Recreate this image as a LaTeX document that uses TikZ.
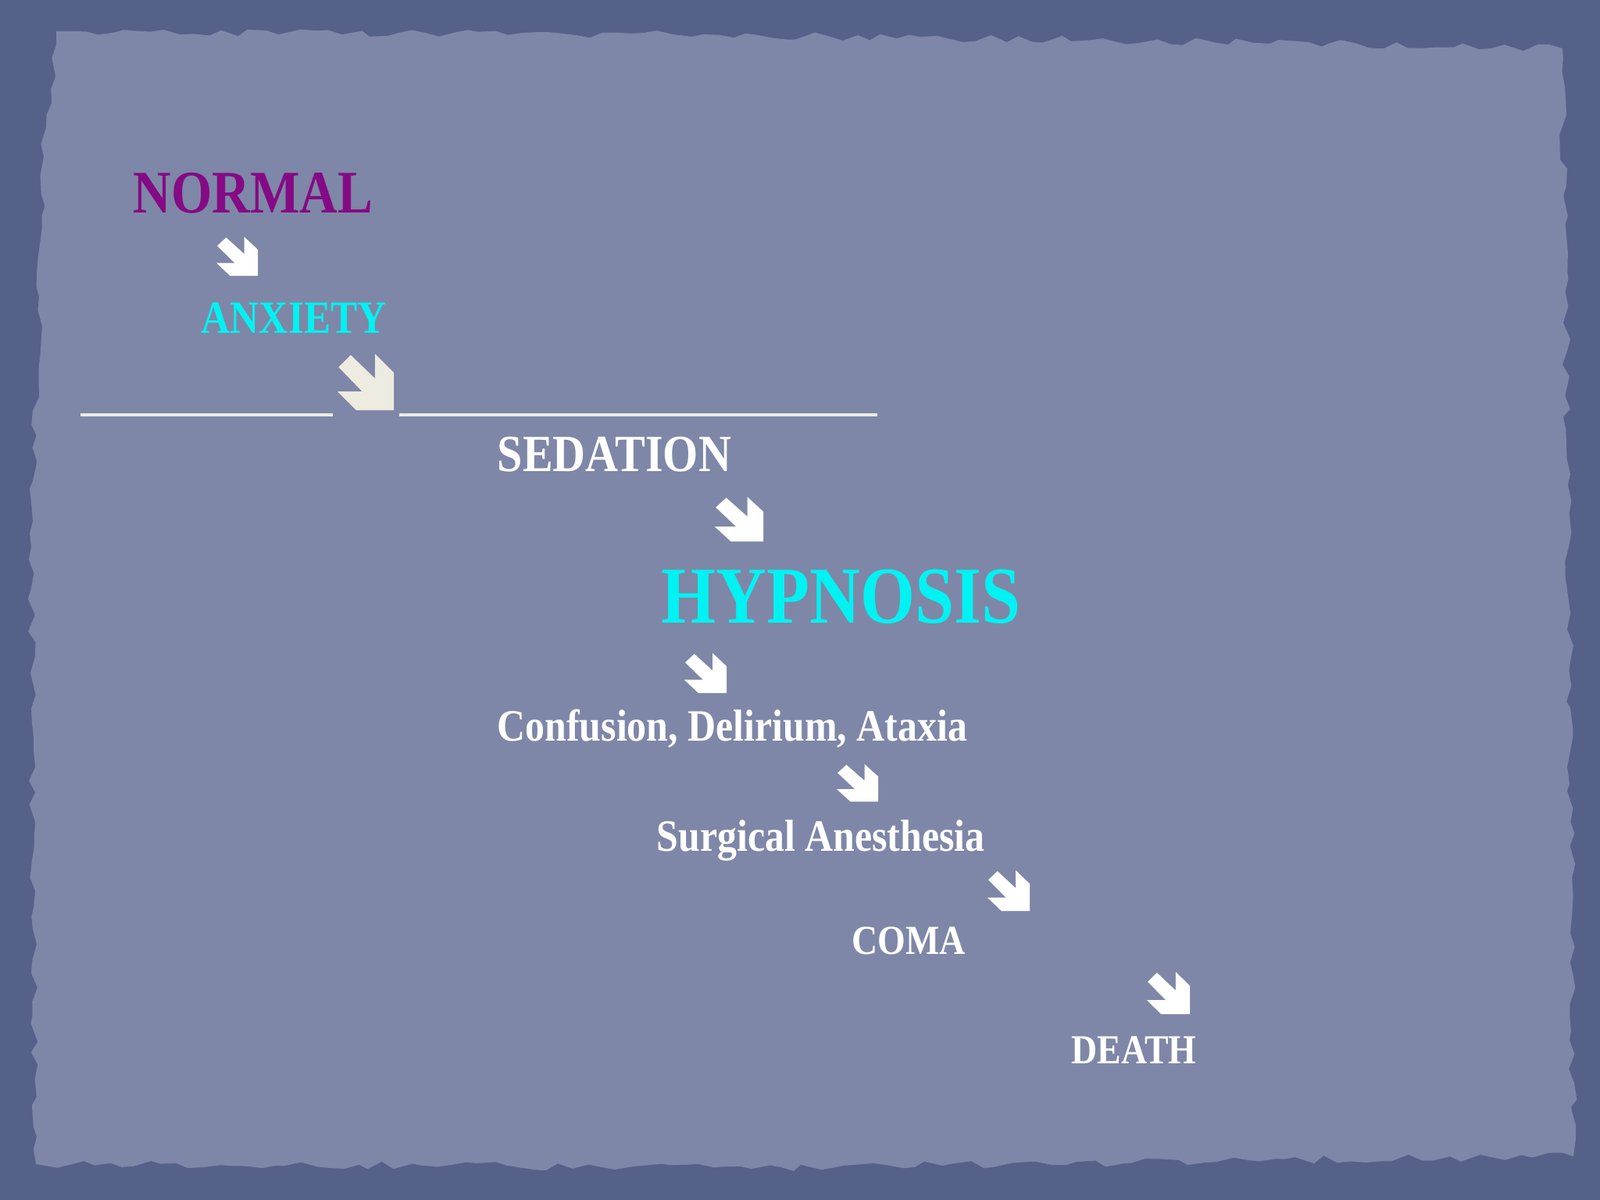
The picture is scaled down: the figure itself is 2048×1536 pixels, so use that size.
\documentclass[tikz,border=0pt]{standalone}
\usepackage{fontspec}
\setmainfont{Liberation Serif}[FakeStretch=0.87]
\usetikzlibrary{decorations.pathmorphing}
\definecolor{Slate}{HTML}{56618A}
\definecolor{Paper}{HTML}{7E87A7}
\definecolor{Plum}{HTML}{850A85}
\definecolor{Aqua}{HTML}{00F2F2}
\definecolor{Cream}{HTML}{EEEBE0}
\tikzset{chevron/.pic={
  \fill[pic actions] (0.235,0.02) -- (0.67,0.44) -- (0.67,0) -- (1,0.33) -- (1,1)
    -- (0.33,1) -- (0,0.67) -- (0.44,0.67) -- (0.02,0.235) -- cycle;}}

\begin{document}
\begin{tikzpicture}[x=0.01cm, y=-0.01cm]
		\tikzstyle{Stage}	= [anchor=base west, inner sep=0pt, font=\bfseries]
		\tikzstyle{Big}		= [font=\bfseries\fontsize{29.4pt}{35pt}\selectfont]
		\tikzstyle{Mid}		= [font=\bfseries\fontsize{22pt}{26pt}\selectfont]
		\tikzstyle{Small}	= [font=\bfseries\fontsize{16.8pt}{20pt}\selectfont]
		\tikzstyle{Tiny}	= [font=\bfseries\fontsize{16.3pt}{20pt}\selectfont]
		\tikzstyle{Caps}	= [font=\bfseries\fontsize{15pt}{18pt}\selectfont]
		\tikzstyle{Arrow}	= [fill=white]
		\tikzstyle{Rule}	= [draw=Cream, line width=0.04cm]

		\useasboundingbox (0,0) rectangle (2048,1536);
		\fill[Slate] (0,0) rectangle (2048,1536);
		\fill[Paper, decorate, decoration={random steps, segment length=5, amplitude=1.5}]
			(72,40) -- (900,44) -- (1700,56) -- (2000,62) -- (2008,700) -- (2014,1480)
			-- (1000,1494) -- (46,1490) -- (40,700) -- (56,200) -- cycle;

		\node (normal)    at (170,272)  [Stage][Mid][text=Plum]   {NORMAL};
		\node (anxiety)   at (257,426)  [Stage][Small][text=Aqua] {ANXIETY};
		\node (sedation)  at (636,603)  [Stage][font=\bfseries\fontsize{19pt}{23pt}\selectfont][text=white] {SEDATION};
		\node (hypnosis)  at (846,797)  [Stage][Big][text=Aqua]   {HYPNOSIS};
		\node (confusion) at (636,948)  [Stage][Tiny][text=white] {Confusion, Delirium, Ataxia};
		\node (surgical)  at (840,1089) [Stage][Tiny][text=white] {Surgical Anesthesia};
		\node (coma)      at (1090,1221)[Stage][Caps][text=white] {COMA};
		\node (death)     at (1371,1361)[Stage][Caps][text=white] {DEATH};

		\coordinate (r1) at (103,531);
		\coordinate (r2) at (426,531);
		\coordinate (r3) at (511,531);
		\coordinate (r4) at (1123,531);
		\draw[Rule] (r1) -- (r2);
		\draw[Rule] (r3) -- (r4);

		\pic[Arrow, xscale=53, yscale=50] (a1) at (277,303)  {chevron};
		\pic[fill=Cream, xscale=72, yscale=72] (a2) at (432,453) {chevron};
		\pic[Arrow, xscale=62, yscale=57] (a3) at (915,636)  {chevron};
		\pic[Arrow, xscale=54, yscale=51] (a4) at (876,836)  {chevron};
		\pic[Arrow, xscale=53, yscale=48] (a5) at (1071,978) {chevron};
		\pic[Arrow, xscale=54, yscale=52] (a6) at (1264,1114){chevron};
		\pic[Arrow, xscale=55, yscale=54] (a7) at (1468,1244){chevron};
	\end{tikzpicture}
\end{document}
